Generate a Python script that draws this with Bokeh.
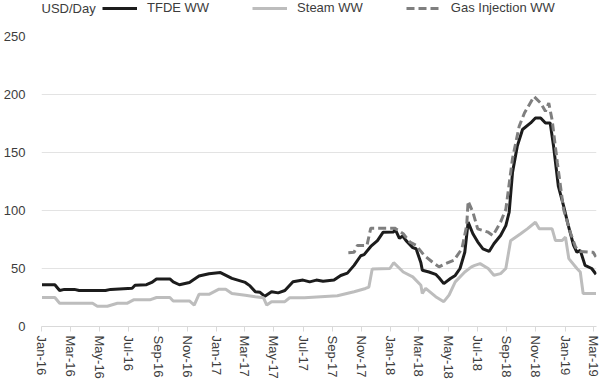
import pandas as pd
from bokeh.plotting import figure
from bokeh.layouts import column
from bokeh.models import (Legend, LegendItem, Label, FixedTicker,
                          DatetimeTickFormatter, Range1d)
from bokeh.embed import file_html
from bokeh.resources import INLINE

# ---------------- data ----------------
tfde_dates = ["2016-01-01", "2016-01-28", "2016-02-07", "2016-02-17", "2016-03-09", "2016-03-19",
              "2016-05-13", "2016-05-24", "2016-07-08", "2016-07-14", "2016-08-07", "2016-08-18",
              "2016-08-28", "2016-09-25", "2016-10-02", "2016-10-15", "2016-11-05", "2016-11-25",
              "2016-12-16", "2017-01-09", "2017-02-02", "2017-03-02", "2017-03-12", "2017-03-23",
              "2017-04-02", "2017-04-12", "2017-04-26", "2017-05-10", "2017-05-24", "2017-06-10",
              "2017-07-01", "2017-07-15", "2017-07-29", "2017-08-12", "2017-09-04", "2017-09-18",
              "2017-10-02", "2017-10-16", "2017-10-30", "2017-11-06", "2017-11-20", "2017-12-04",
              "2017-12-16", "2018-01-07", "2018-01-10", "2018-01-19", "2018-01-26", "2018-02-02",
              "2018-02-16", "2018-02-23", "2018-03-05", "2018-03-08", "2018-03-22", "2018-04-05",
              "2018-04-12", "2018-04-22", "2018-05-06", "2018-05-16", "2018-05-26", "2018-06-05",
              "2018-06-12", "2018-06-22", "2018-07-02", "2018-07-13", "2018-07-26", "2018-08-05",
              "2018-08-19", "2018-08-30", "2018-09-06", "2018-09-13", "2018-09-23", "2018-10-04",
              "2018-10-21", "2018-10-31", "2018-11-11", "2018-11-21", "2018-12-01", "2018-12-08",
              "2018-12-18", "2018-12-29", "2019-01-08", "2019-01-19", "2019-01-26", "2019-02-02",
              "2019-02-12", "2019-02-26", "2019-03-07"]
tfde_vals = [36, 36, 31, 32, 32, 31,
             31, 32, 33, 35.5, 36, 38,
             41, 41, 38.5, 36, 38, 43.5,
             45.5, 46.5, 41.5, 38, 35, 30,
             29.5, 26, 30, 29, 31, 38.5,
             40, 38.5, 40, 39, 40, 44,
             46, 52.7, 61, 62, 69, 74,
             81.3, 81.5, 84, 76, 78, 74,
             68, 67, 55, 48.5, 47, 45,
             42, 37, 41.4, 44, 50, 64,
             90, 80, 73, 67, 64.7, 71.3,
             78.4, 87, 98.5, 132.7, 155.5, 169.8,
             175.5, 179.8, 179.8, 175.5, 175.5, 155.5,
             121, 104, 87, 70, 64, 65.6,
             52.7, 50, 45]

steam_dates = ["2016-01-01", "2016-01-28", "2016-02-07", "2016-04-16", "2016-04-26", "2016-05-17",
               "2016-06-07", "2016-06-27", "2016-07-11", "2016-08-14", "2016-08-28", "2016-09-25",
               "2016-10-02", "2016-11-05", "2016-11-15", "2016-11-25", "2016-12-16", "2017-01-06",
               "2017-01-20", "2017-02-02", "2017-03-02", "2017-03-23", "2017-04-09", "2017-04-16",
               "2017-04-26", "2017-05-24", "2017-06-03", "2017-07-04", "2017-09-11", "2017-10-16",
               "2017-11-09", "2017-11-16", "2017-11-23", "2017-12-30", "2018-01-07", "2018-01-27",
               "2018-02-16", "2018-03-05", "2018-03-08", "2018-03-15", "2018-04-05", "2018-04-22",
               "2018-05-03", "2018-05-16", "2018-06-05", "2018-06-19", "2018-06-26", "2018-07-07",
               "2018-07-24", "2018-08-05", "2018-08-19", "2018-08-30", "2018-09-09", "2018-09-30",
               "2018-10-14", "2018-10-31", "2018-11-08", "2018-12-05", "2018-12-12", "2018-12-26",
               "2019-01-02", "2019-01-09", "2019-01-26", "2019-02-02", "2019-02-08", "2019-03-07"]
steam_vals = [25, 25, 20, 20, 17.5, 17.5,
              20, 20, 23, 23, 25, 25,
              22, 22, 18.5, 27.7, 27.7, 32.2,
              32.2, 28.5, 27, 25.7, 24.8, 18.5,
              21.4, 21.4, 24.8, 24.8, 26.5, 30,
              32.8, 34, 49.5, 50, 55, 47,
              42.8, 35.6, 28.5, 32.8, 25.7, 21.4,
              27, 38.5, 47, 51.4, 52.7, 54.2,
              50, 44.2, 45.6, 50, 74, 79.9,
              84.2, 89.9, 84.2, 84.2, 74.1, 74.1,
              77, 58.5, 50, 47, 28.5, 28.5]

gas_dates = ["2017-10-04", "2017-10-16", "2017-10-23", "2017-11-12", "2017-11-20", "2018-01-09",
             "2018-01-27", "2018-02-10", "2018-02-23", "2018-03-12", "2018-03-29", "2018-04-12",
             "2018-04-26", "2018-05-13", "2018-05-30", "2018-06-09", "2018-06-12", "2018-06-22",
             "2018-07-02", "2018-07-24", "2018-08-03", "2018-08-19", "2018-08-30", "2018-09-13",
             "2018-09-27", "2018-10-08", "2018-10-28", "2018-11-11", "2018-11-21", "2018-11-28",
             "2018-12-05", "2018-12-16", "2018-12-29", "2019-01-12", "2019-01-23", "2019-02-02",
             "2019-03-01", "2019-03-07"]
gas_vals = [63.6, 64, 69.9, 69.9, 84.8, 84.8,
            80, 72.8, 70, 61.3, 55.6, 51.4,
            54.2, 57, 67, 87, 108, 98.5,
            84.2, 81.3, 78.4, 90, 101, 144.8,
            172.6, 184, 198.3, 192.6, 185.5, 192.6,
            178, 141, 101, 81.3, 68.5, 64.7,
            64, 60]

series_names = ["TFDE WW", "Steam WW", "Gas Injection WW"]
tick_months = ["2016-01-01", "2016-03-01", "2016-05-01", "2016-07-01", "2016-09-01", "2016-11-01",
               "2017-01-01", "2017-03-01", "2017-05-01", "2017-07-01", "2017-09-01", "2017-11-01",
               "2018-01-01", "2018-03-01", "2018-05-01", "2018-07-01", "2018-09-01", "2018-11-01",
               "2019-01-01", "2019-03-01"]
y_ticks = [0, 50, 100, 150, 200, 250]
y_axis_title = "USD/Day"

# ---------------- styles ----------------
FONT = "Liberation Sans"
TXT = "#3c3c3c"
COLORS = ["#1c1c1c", "#bdbdbd", "#7f7f7f"]
DASHES = ["solid", "solid", "8 4"]
LW = 3

# ---------------- main chart ----------------
p = figure(width=600, height=355, output_backend="svg", toolbar_location=None,
           x_axis_type="datetime",
           x_range=Range1d(pd.Timestamp("2015-12-31"), pd.Timestamp("2019-03-08")),
           y_range=Range1d(0, 250),
           min_border_left=33, min_border_right=4, min_border_top=10, min_border_bottom=53)
p.outline_line_color = None


def to_ms(s):
    return pd.Timestamp(s).timestamp() * 1000.0


p.line(pd.to_datetime(tfde_dates), tfde_vals, line_color=COLORS[0], line_width=LW,
       line_dash=DASHES[0])
p.line(pd.to_datetime(steam_dates), steam_vals, line_color=COLORS[1], line_width=LW,
       line_dash=DASHES[1])
p.line(pd.to_datetime(gas_dates), gas_vals, line_color=COLORS[2], line_width=LW,
       line_dash=DASHES[2])

xa = p.xaxis[0]
xa.ticker = FixedTicker(ticks=[to_ms(d) for d in tick_months])
fmt = "%b-%y"
xa.formatter = DatetimeTickFormatter(days=fmt, months=fmt, years=fmt, hours=fmt,
                                     minutes=fmt, seconds=fmt, milliseconds=fmt,
                                     microseconds=fmt, hourmin=fmt, minsec=fmt)
xa.major_label_orientation = "vertical"
xa.axis_line_color = "#d9d9d9"
xa.major_tick_line_color = "#d9d9d9"
xa.major_tick_out = 5
xa.major_tick_in = 0
xa.minor_tick_line_color = None
xa.major_label_standoff = 4
xa.major_label_text_font = FONT
xa.major_label_text_font_size = "13px"
xa.major_label_text_color = TXT

ya = p.yaxis[0]
ya.ticker = FixedTicker(ticks=y_ticks)
ya.axis_line_color = None
ya.major_tick_line_color = None
ya.minor_tick_line_color = None
ya.major_label_standoff = 10
ya.major_label_text_font = FONT
ya.major_label_text_font_size = "13px"
ya.major_label_text_color = TXT

p.xgrid.grid_line_color = None
p.ygrid.ticker = FixedTicker(ticks=y_ticks[1:])
p.ygrid.grid_line_color = "#e3e3e3"
p.ygrid.grid_line_width = 1

# ---------------- header strip: unit text + legend ----------------
H = 26
top = figure(width=600, height=H, output_backend="svg", toolbar_location=None,
             x_range=Range1d(0, 600), y_range=Range1d(0, H),
             x_axis_type=None, y_axis_type=None,
             min_border_left=0, min_border_right=0, min_border_top=0, min_border_bottom=0)
top.outline_line_color = None

keys = []
for name, c, d in zip(series_names, COLORS, DASHES):
    # key-only renderer: a single missing point, so nothing is drawn in the strip itself
    r = top.line(x=[float("nan")], y=[float("nan")], line_color=c, line_width=LW, line_dash=d)
    keys.append(LegendItem(label=name, renderers=[r]))

legend = Legend(items=keys, orientation="horizontal", location=(61, 11),
                glyph_width=35, glyph_height=14, label_height=14,
                label_standoff=10, spacing=43, padding=0, margin=0,
                border_line_color=None, background_fill_alpha=0,
                label_text_font=FONT, label_text_font_size="13px",
                label_text_color=TXT)
top.add_layout(legend)

top.add_layout(Label(x=0, y=H, x_units="screen", y_units="screen", text=y_axis_title,
                     text_font=FONT, text_font_size="13px", text_color=TXT,
                     text_baseline="top", text_align="left"))

layout = column(top, p, spacing=0)
open("out.html", "w").write(file_html(layout, INLINE))
